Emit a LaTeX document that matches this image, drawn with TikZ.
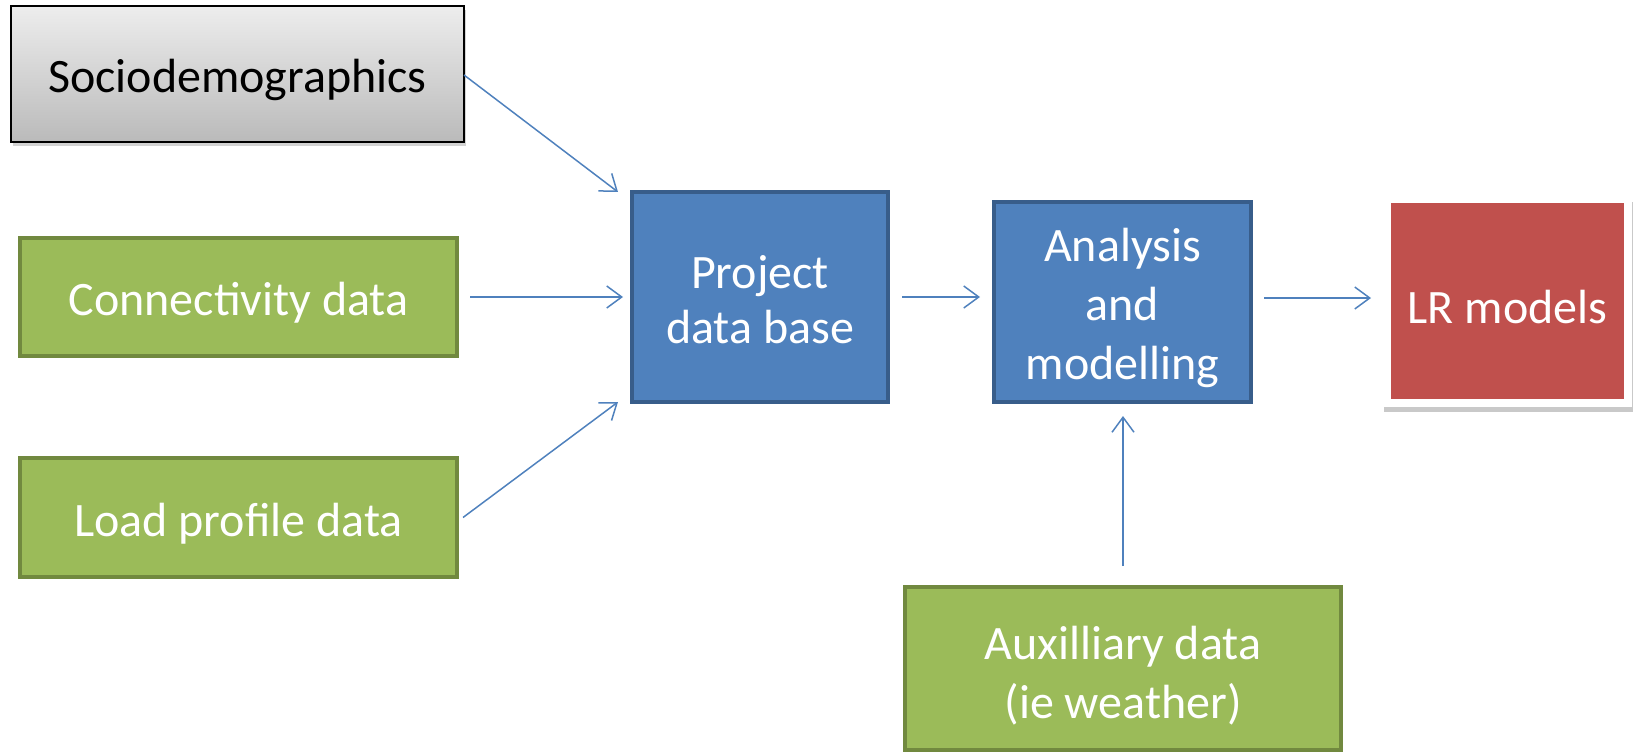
\documentclass[tikz,border=0pt]{standalone}
\usepackage{fontspec}
\setmainfont{Carlito}
\usetikzlibrary{arrows.meta,shadows}
\definecolor{blfill}{HTML}{4F81BD}
\definecolor{bldraw}{HTML}{385D8A}
\definecolor{grfill}{HTML}{9BBB59}
\definecolor{grdraw}{HTML}{71893F}
\definecolor{rdfill}{HTML}{C0504D}
\definecolor{arrcol}{HTML}{4F81BD}
\newcommand{\lowstrut}{\rule{0pt}{45pt}}
\tikzset{
  box/.style={rectangle, inner sep=0pt, outer sep=0pt, align=center,
    font=\fontsize{48}{59}\selectfont, text=white},
  greenbox/.style={box, fill=grfill, draw=grdraw, line width=4pt},
  bluebox/.style={box, fill=blfill, draw=bldraw, line width=4pt},
  redbox/.style={box, fill=rdfill, draw=white, line width=8pt,
    drop shadow={shadow xshift=1pt, shadow yshift=-6pt, shadow scale=1.03, opacity=0.3, fill=black!70}},
  greybox/.style={box, text=black, draw=black, line width=2pt,
    top color=black!7, bottom color=black!27,
    drop shadow={shadow xshift=2pt, shadow yshift=-4pt, opacity=0.35}},
  arr/.style={draw=arrcol, line width=1.5pt, -{Straight Barb[length=15pt,width=22pt,line width=1.5pt]}}
}
\begin{document}
\begin{tikzpicture}[x=1pt,y=-1pt]
\useasboundingbox (0,0) rectangle (1637,754);
\node[greybox, minimum width=453, minimum height=136] (socio) at (237.5,74) {\lowstrut Sociodemographics};
\node[greenbox, minimum width=437, minimum height=118] (conn) at (238.5,297) {\lowstrut Connectivity data};
\node[greenbox, minimum width=437, minimum height=119] (load) at (238.5,517.5) {\lowstrut Load profile data};
\node[bluebox, minimum width=256, minimum height=210, font=\fontsize{48}{55}\selectfont] (pdb) at (760,297) {\rule{0pt}{38pt}Project\\data base};
\node[bluebox, minimum width=257, minimum height=200] (ana) at (1122.5,302) {\lowstrut Analysis\\and\\modelling};
\node[redbox, minimum width=241, minimum height=204] (lr) at (1507.5,301) {\lowstrut LR models};
\node[greenbox, minimum width=436, minimum height=163] (aux) at (1123,668.5) {\rule{0pt}{47pt}Auxilliary data\\(ie weather)};

\draw[arr] ([yshift=-1pt]socio.east) -- ([xshift=-14pt]pdb.north west);
\draw[arr] ([xshift=13pt]conn.east) -- ([xshift=-9pt]pdb.west);
\draw[arr] ([xshift=6pt]load.east) -- ([xshift=-14pt]pdb.south west);
\draw[arr] ([xshift=14pt]pdb.east) -- ([xshift=-14pt]pdb.east -| ana.west);
\draw[arr] ([xshift=13pt,yshift=4pt]ana.east) -- ([xshift=-16pt,yshift=4pt]ana.east -| lr.west);
\draw[arr] ([yshift=21pt]aux.north) -- ([yshift=-14pt]aux.north |- ana.south);
\end{tikzpicture}
\end{document}
